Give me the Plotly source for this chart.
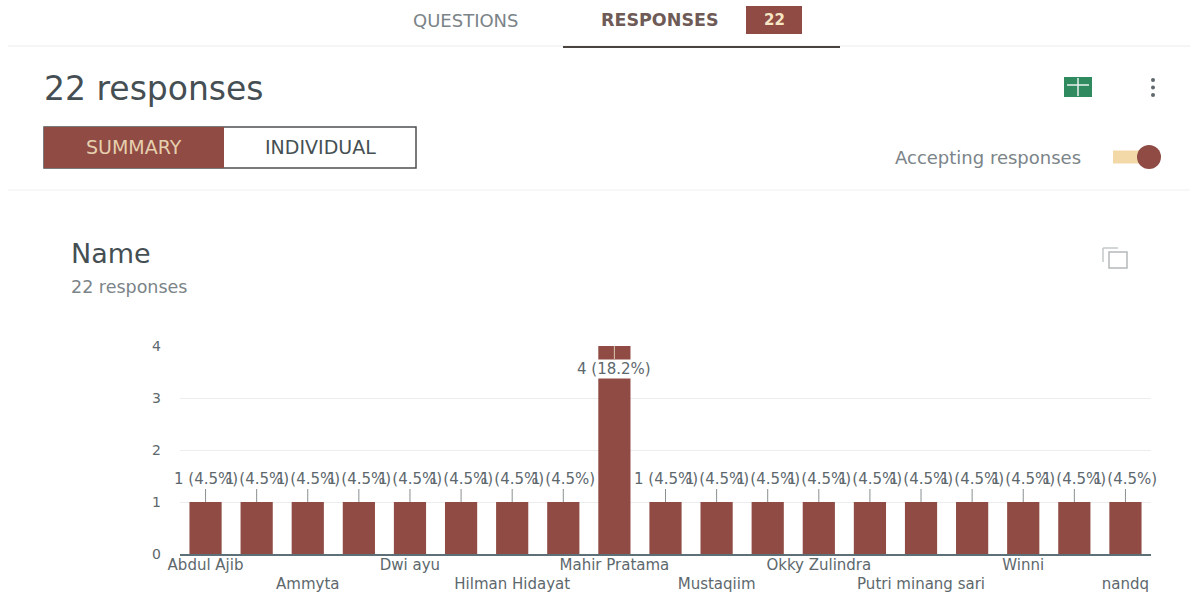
import plotly.graph_objects as go

W, H = 1197, 597

# Data
positions = list(range(19))
values = [1, 1, 1, 1, 1, 1, 1, 1, 4, 1, 1, 1, 1, 1, 1, 1, 1, 1, 1]
percents = [4.5, 4.5, 4.5, 4.5, 4.5, 4.5, 4.5, 4.5, 18.2, 4.5, 4.5, 4.5, 4.5, 4.5, 4.5, 4.5, 4.5, 4.5, 4.5]
tick_positions = [0, 2, 4, 6, 8, 10, 12, 14, 16, 18]
tick_labels = ["Abdul Ajib", "Ammyta", "Dwi ayu", "Hilman Hidayat", "Mahir Pratama",
               "Mustaqiim", "Okky Zulindra", "Putri minang sari", "Winni", "nandq"]
y_ticks = [0, 1, 2, 3, 4]

BROWN = "#8f4b44"
TEXT = "#5d686d"
DARK = "#454f53"
FONT = "DejaVu Sans"


def px(x):
    return x / W


def py(y):
    return 1 - y / H


def rect(x0, y0, x1, y1, fill="rgba(0,0,0,0)", line=None, lw=1):
    return dict(type="rect", xref="paper", yref="paper", x0=px(x0), x1=px(x1), y0=py(y0), y1=py(y1),
                fillcolor=fill, line=dict(color=line or "rgba(0,0,0,0)", width=lw if line else 0), layer="above")


def seg(x0, y0, x1, y1, color, lw=1):
    return dict(type="line", xref="paper", yref="paper", x0=px(x0), x1=px(x1), y0=py(y0), y1=py(y1),
                line=dict(color=color, width=lw))


def circle(cx, cy, r, fill):
    return dict(type="circle", xref="paper", yref="paper", x0=px(cx - r), x1=px(cx + r),
                y0=py(cy + r), y1=py(cy - r), fillcolor=fill, line=dict(width=0))


def label(x, y, text, size, color=TEXT, anchor="left", bold=False):
    t = f"<b>{text}</b>" if bold else text
    return dict(xref="paper", yref="paper", x=px(x), y=py(y), text=t, showarrow=False, xanchor=anchor,
                yanchor="middle", font=dict(size=size, color=color, family=FONT))


fig = go.Figure(go.Bar(x=positions, y=values, width=0.63, marker=dict(color=BROWN, line=dict(width=0)),
                       hoverinfo="skip"))

annotations = []
for p, v, pc in zip(positions, values, percents):
    tall = v == 4
    annotations.append(dict(x=p, y=v, xref="x", yref="y", text=f"{v} ({pc}%)", showarrow=True,
                            arrowhead=0, arrowwidth=1, arrowcolor="#d8c9b0" if tall else "#8a8f90",
                            ax=0, ay=13 if tall else -13, standoff=0,
                            yanchor="top" if tall else "bottom",
                            bgcolor="#ffffff" if tall else "rgba(0,0,0,0)", borderpad=0,
                            font=dict(size=15, color=TEXT, family=FONT)))

annotations += [
    label(466, 20, "QUESTIONS", 18, "#7b8488", "center"),
    label(660, 20, "RESPONSES", 17.5, "#6e5a56", "center", True),
    label(774, 20, "22", 15, "#f6e6c4", "center", True),
    label(42, 89, "22 responses", 33, DARK),
    label(134, 147, "SUMMARY", 19, "#e6cfae", "center"),
    label(320, 147, "INDIVIDUAL", 19, DARK, "center"),
    label(988, 157, "Accepting responses", 18, "#7b8488", "center"),
    label(69, 253, "Name", 27, DARK),
    label(69, 287, "22 responses", 17.5, "#7b8488"),
]

shapes = [
    seg(8, 46, 1190, 46, "#ececec"),
    seg(563, 47, 840, 47, "#4a4440", 2),
    rect(746, 6, 802, 34, BROWN),
    rect(1064, 77, 1092, 97, "#2f8a5f"),
    seg(1067, 85, 1089, 85, "#e8f2ec", 1.5),
    seg(1078, 78, 1078, 96, "#e8f2ec", 1.5),
    circle(1153, 80, 2, "#5f686c"),
    circle(1153, 87.5, 2, "#5f686c"),
    circle(1153, 95, 2, "#5f686c"),
    rect(44, 127, 416, 168, "#ffffff", "#4c4f50", 1.5),
    rect(44, 127, 224, 168, BROWN),
    seg(8, 190, 1190, 190, "#efefef"),
    seg(1113, 157, 1150, 157, "#f3d9a8", 13),
    circle(1149, 157, 12, BROWN),
    rect(1109, 252, 1127, 268, "rgba(0,0,0,0)", "#b4b9bb", 1.5),
    seg(1103, 248, 1118, 248, "#c4c8ca", 1.5),
    seg(1103, 248, 1103, 262, "#c4c8ca", 1.5),
]

fig.update_layout(
    width=W, height=H, autosize=False, margin=dict(l=0, r=0, t=0, b=0),
    paper_bgcolor="#ffffff", plot_bgcolor="#ffffff", showlegend=False,
    font=dict(family=FONT, color=TEXT),
    xaxis=dict(domain=[px(180), px(1151)], range=[-0.5, 18.5], tickmode="array", tickvals=tick_positions,
               ticktext=[("<br>" + t if i % 2 else t) for i, t in enumerate(tick_labels)],
               automargin=False, tickangle=0, ticks="", showgrid=False, zeroline=False, showline=True,
               linecolor="#5d7078", linewidth=1.5, ticklabelstandoff=-4,
               tickfont=dict(size=15, color=TEXT, family=FONT)),
    yaxis=dict(domain=[py(554), py(346)], range=[0, 4], tickmode="array", tickvals=y_ticks,
               automargin=False, ticks="", showgrid=True, gridcolor="#ededed", gridwidth=1, zeroline=False,
               showline=False, ticklabelstandoff=18, tickfont=dict(size=14, color=TEXT, family=FONT)),
    annotations=annotations, shapes=shapes,
)

fig.write_html("out.html", config=dict(displayModeBar=False),
               post_script="document.body.style.margin='0';document.documentElement.style.overflow='hidden';")
